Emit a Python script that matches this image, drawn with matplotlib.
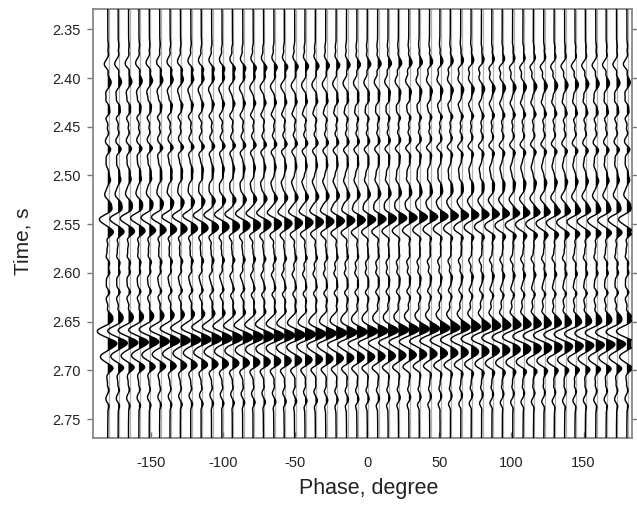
import numpy as np
import matplotlib
matplotlib.use("Agg")
import matplotlib.pyplot as plt

plt.rcParams['font.family'] = ['Liberation Sans', 'DejaVu Sans']
plt.rcParams['axes.unicode_minus'] = False

# Phase rotations applied to the trace (degrees)
phases = np.linspace(-180, 180, 51)

# Main reflections of the zero-phase trace: times (s) and amplitudes
spike_times = [2.385, 2.405, 2.416, 2.430, 2.443, 2.464, 2.487, 2.498,
               2.520, 2.545, 2.576, 2.592, 2.612, 2.628, 2.660, 2.686,
               2.708, 2.728]
spike_amps = [0.30, -0.32, 0.12, -0.12, 0.12, 0.25, 0.22, -0.12,
              0.38, 1.00, 0.15, -0.10, 0.15, 0.18, 1.25, 0.90,
              0.22, 0.20]

# Weak high-frequency background reflections
weak_times = [2.372, 2.392, 2.424, 2.436, 2.452, 2.472, 2.480, 2.505,
              2.532, 2.558, 2.566, 2.584, 2.600, 2.620, 2.638, 2.672,
              2.698, 2.716, 2.736]
weak_amps = [0.10, -0.16, 0.18, -0.18, 0.18, -0.15, 0.15, -0.15,
             0.12, -0.15, 0.18, 0.18, -0.18, -0.18, 0.18, -0.15,
             -0.15, 0.15, -0.12]

main_freq = 32.0   # Hz, Ricker wavelet of the main reflections
weak_freq = 62.0   # Hz, Ricker wavelet of the background
dt = 0.0005
gain = 5.8         # degrees of offset per unit amplitude

t = np.arange(2.28, 2.82, dt)
tw = np.arange(-0.08, 0.08 + dt / 2, dt)


def ricker(f):
    arg = (np.pi * f * tw) ** 2
    return (1 - 2 * arg) * np.exp(-arg)


def spikes(times, amps):
    r = np.zeros_like(t)
    for ts, a in zip(times, amps):
        r[int(round((ts - t[0]) / dt))] += a
    return r


base = (np.convolve(spikes(spike_times, spike_amps), ricker(main_freq), mode='same')
        + np.convolve(spikes(weak_times, weak_amps), ricker(weak_freq), mode='same'))

# analytic signal via FFT
n = len(base)
spec = np.fft.fft(base)
h = np.zeros(n)
h[0] = 1
if n % 2 == 0:
    h[n // 2] = 1
    h[1:n // 2] = 2
else:
    h[1:(n + 1) // 2] = 2
analytic = np.fft.ifft(spec * h)

fig = plt.figure(figsize=(6.37, 5.05), dpi=100)
ax = fig.add_axes([0.1465, 0.132, 0.8455, 0.850])

for ph in phases:
    tr = np.real(analytic * np.exp(1j * np.deg2rad(ph))) * gain
    ax.axvline(ph + 0.7, color='#b0b0b0', lw=0.9, zorder=1)
    ax.fill_betweenx(t, ph, ph + tr, where=tr > 0, interpolate=True,
                     color='black', lw=0, zorder=2)
    ax.plot(ph + tr, t, color='black', lw=1.0, zorder=3)

ax.set_xlim(-190, 183.5)
ax.set_ylim(2.7698, 2.3292)

ax.set_xticks([-150, -100, -50, 0, 50, 100, 150])
ax.set_xticklabels(['-150', '-100', '-50', '0', '50', '100', '150'])
yt = np.arange(2.35, 2.751, 0.05)
ax.set_yticks(yt)
ax.set_yticklabels([f'{v:.2f}' for v in yt])

ax.tick_params(axis='x', direction='in', length=4, width=1, color='#777777',
               labelsize=10.5, labelcolor='#222222', pad=13)
ax.tick_params(axis='y', direction='out', length=4, width=1, color='#777777',
               labelsize=10.5, labelcolor='#222222', pad=5, right=True)
for s in ax.spines.values():
    s.set_color('#888888')
    s.set_linewidth(1.3)

ax.set_xlabel('Phase, degree', fontsize=15.5, color='#222222')
ax.set_ylabel('Time, s', fontsize=15, color='#222222')
ax.xaxis.set_label_coords(0.511, -0.093)
ax.yaxis.set_label_coords(-0.113, 0.46)

fig.savefig('out.png', dpi=100)
